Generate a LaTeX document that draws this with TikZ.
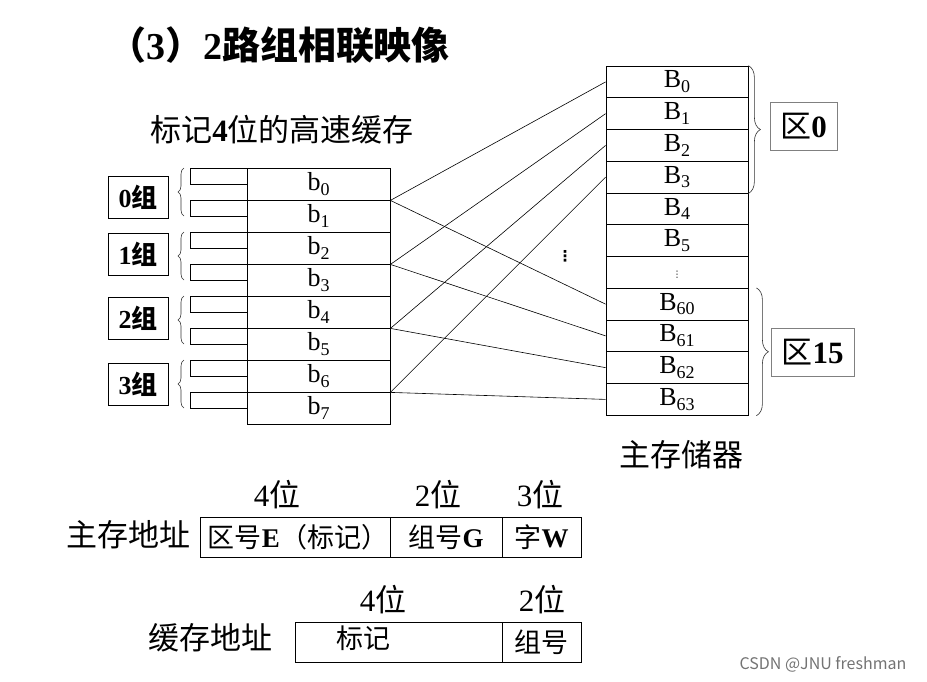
\documentclass[tikz,border=0pt]{standalone}
\usepackage{fontspec}
\setmainfont{Liberation Serif}
\newfontfamily\cjk{Noto Sans CJK SC}
\newfontfamily\dv{DejaVu Sans}
\usetikzlibrary{decorations.pathreplacing}
\newcommand\zh[1]{{\cjk #1}}
\newcommand\subx[1]{\raisebox{-0.4ex}{\fontsize{18}{18}\selectfont #1}}
\begin{document}
\begin{tikzpicture}[x=1pt,y=-1pt,
  cell/.style={draw,line width=0.8pt,inner sep=0pt,font=\fontsize{26}{26}\selectfont},
  tagbox/.style={draw,line width=0.8pt,inner sep=0pt,minimum width=57,minimum height=16},
  grpbox/.style={draw,line width=0.8pt,inner sep=0pt,minimum width=60,minimum height=42,font=\fontsize{26}{26}\selectfont\bfseries},
  zonebox/.style={draw=gray,line width=0.9pt,inner sep=0pt,minimum height=48,font=\fontsize{31}{31}\selectfont\bfseries},
  addr/.style={draw,line width=0.8pt,inner sep=0pt,minimum height=40,font=\fontsize{27}{27}\selectfont},
  lbl/.style={inner sep=0pt,font=\fontsize{31}{31}\selectfont},
  brc/.style={decorate,decoration={brace,amplitude=#1},line width=0.6pt,draw=black!80},
  conn/.style={line width=0.6pt}]
\useasboundingbox (0,0) rectangle (927,681);
% title
\node[inner sep=0pt,font=\fontsize{38}{38}\selectfont\bfseries] (title) at (279,45)
  {\zh{（}3\zh{）}2\zh{路组相联映像}};
\node[lbl] (cachehead) at (282,130)
  {\zh{标记}\textbf{4}\zh{位的高速缓存}};
% cache rows
\foreach \i in {0,...,7}{
  \node[cell,minimum width=143,minimum height=32] (c\i) at (318.5,184+32*\i) {b\subx{\i}};
  \node[tagbox] (t\i) at (218.5,176+32*\i) {};
}
% groups
\foreach \g/\yy in {0/197,1/254,2/318,3/384}{
  \node[grpbox] (g\g) at (138,\yy) {\g\zh{组}};
  \draw[brc=6] (184,{216+64*\g}) -- (184,{168+64*\g});
}
% main memory
\foreach \i/\t in {0/B\subx{0},1/B\subx{1},2/B\subx{2},3/B\subx{3},4/B\subx{4},5/B\subx{5},6/{},7/B\subx{60},8/B\subx{61},9/B\subx{62},10/B\subx{63}}{
  \node[cell,minimum width=142,minimum height=31.75] (m\i) at (677,{81.9+31.75*\i}) {\t};
}
\node[inner sep=0pt,font=\dv\fontsize{9}{9}\selectfont] (mdots) at (677,275) {⋮};
\node[inner sep=0pt,font=\dv\fontsize{15}{15}\selectfont\bfseries] (vdots) at (565,256) {⋮};
% connections
\foreach \g in {0,1,2,3}{
  \pgfmathtruncatemacro\r{2*\g}
  \pgfmathtruncatemacro\k{7+\g}
  \coordinate (p\g) at (c\r.south east);
  \draw[conn] (p\g) -- (m\g.west);
  \draw[conn] (p\g) -- (m\k.west);
}
% zones
\draw[brc=12] (m0.north east) -- (m3.south east);
\draw[brc=12] ([xshift=8pt]m7.north east) -- ([xshift=8pt]m10.south east);
\node[zonebox,minimum width=67] (z0) at (803.5,126) {\zh{\mdseries 区}0};
\node[zonebox,minimum width=83] (z15) at (812.5,352) {\zh{\mdseries 区}15};
\node[lbl] (mainmem) at (681,455) {\zh{主存储器}};
% main address
\node[addr,minimum width=190] (ae) at (295,537) {};
\node[inner sep=0pt,font=\fontsize{27}{27}\selectfont] (aetext) at (298,537) {\zh{区号}\textbf{E}\zh{（标记）}};
\node[addr,minimum width=112] (ag) at (446,537) {\zh{组号}\textbf{G}};
\node[addr,minimum width=79] (aw) at (541.5,537) {\zh{字}\textbf{W}};
\node[lbl] (mainaddr) at (128,535) {\zh{主存地址}};
\node[lbl] (b4) at (277,495) {4\zh{位}};
\node[lbl] (b2) at (438,495) {2\zh{位}};
\node[lbl] (b3) at (540,495) {3\zh{位}};
% cache address
\node[addr,minimum width=207] (ct) at (398.5,642) {};
\node[inner sep=0pt,font=\fontsize{27}{27}\selectfont] (cttext) at (363,638) {\zh{标记}};
\node[addr,minimum width=79] (cg) at (541.5,642) {\zh{组号}};
\node[lbl] (cacheaddr) at (210,638) {\zh{缓存地址}};
\node[lbl] (c4) at (383,600) {4\zh{位}};
\node[lbl] (c2) at (542,600) {2\zh{位}};
% watermark
\node[inner sep=0pt,text=black!55,font=\fontsize{16}{16}\selectfont] (wm) at (823,664) {\zh{CSDN @JNU freshman}};
\end{tikzpicture}
\end{document}
